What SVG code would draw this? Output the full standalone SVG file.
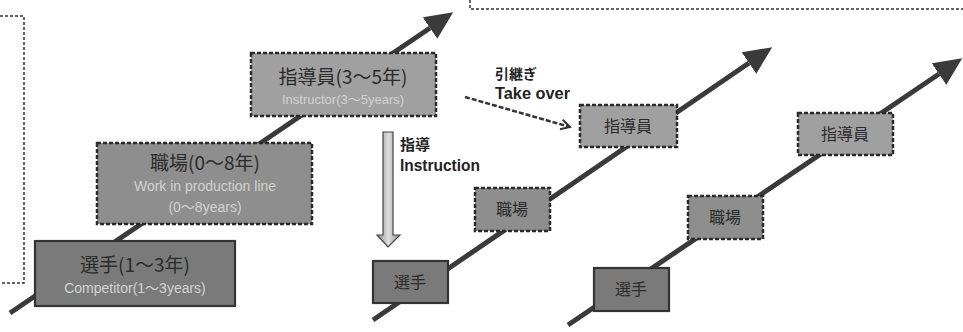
<svg xmlns="http://www.w3.org/2000/svg" width="963" height="332" viewBox="0 0 963 332">
<style>
.jp{font-family:"Noto Sans CJK JP","Liberation Sans",sans-serif;fill:#2b2b2b;text-anchor:middle}
.en{font-family:"Liberation Sans","Noto Sans CJK JP",sans-serif;fill:#d2d2d2;text-anchor:middle}
.lbl{font-family:"Liberation Sans","Noto Sans CJK JP",sans-serif;fill:#222;font-weight:bold}
.lbljp{font-family:"Noto Sans CJK JP",sans-serif;fill:#222;font-weight:bold}
.solid{stroke:#333;stroke-width:2.2}
.dash{stroke:#2a2a2a;stroke-width:2.5;stroke-dasharray:4 2}
.c1{fill:#7a7a7a}
.c2{fill:#8e8e8e}
.c3{fill:#a0a0a0}
.stair{stroke:#3a3a3a;stroke-width:5;fill:none}
.frame{stroke:#333;stroke-width:1.5;stroke-dasharray:3 2;fill:none}
</style>
<defs>
<marker id="big" markerUnits="userSpaceOnUse" markerWidth="30" markerHeight="28" refX="0" refY="13" orient="auto" viewBox="0 0 30 28">
<path d="M0,0 L28,13 L0,26 z" fill="#3a3a3a"/>
</marker>
<marker id="open" markerUnits="userSpaceOnUse" markerWidth="14" markerHeight="14" refX="10" refY="6" orient="auto" viewBox="0 0 14 14">
<path d="M1,1 L10,6 L1,11" fill="none" stroke="#333" stroke-width="2"/>
</marker>
<linearGradient id="ag" x1="0" y1="0" x2="1" y2="0">
<stop offset="0" stop-color="#8a8a8a"/>
<stop offset="0.5" stop-color="#e0e0e0"/>
<stop offset="1" stop-color="#8a8a8a"/>
</linearGradient>
</defs>

<g id="frames">
<polyline class="frame" points="0,16 24,16 24,283 0,283"/>
<polyline class="frame" points="470,0 470,9 963,9"/>
</g>

<g id="connectors">
<line class="stair" x1="10" y1="313" x2="430" y2="28" marker-end="url(#big)"/>
<line class="stair" x1="373" y1="320" x2="749" y2="63" marker-end="url(#big)"/>
<line class="stair" x1="568" y1="325" x2="939" y2="74" marker-end="url(#big)"/>
<line x1="465" y1="97" x2="570" y2="127" stroke="#333" stroke-width="2.5" stroke-dasharray="5 2" marker-end="url(#open)"/>
<polygon points="383,132 393,132 393,235 400,235 388,247 377,235 383,235" fill="url(#ag)" stroke="#444" stroke-width="1.2"/>
<text class="lbljp" x="400" y="150" font-size="15">指導</text>
<text class="lbl" x="400" y="171" font-size="16" textLength="80" lengthAdjust="spacingAndGlyphs">Instruction</text>
<text class="lbljp" x="495" y="79" font-size="14">引継ぎ</text>
<text class="lbl" x="495" y="99" font-size="16" textLength="75" lengthAdjust="spacingAndGlyphs">Take over</text>
</g>

<g id="node-senshu-1">
<rect class="c1 solid" x="35" y="241" width="200" height="65"/>
<text class="jp" x="135" y="272" font-size="19">選手(1～3年)</text>
<text class="en" x="135" y="293" font-size="14">Competitor(1～3years)</text>
</g>
<g id="node-shokuba-1">
<rect class="c2 dash" x="97" y="143" width="215" height="81"/>
<text class="jp" x="205" y="170" font-size="19">職場(0～8年)</text>
<text class="en" x="205" y="191" font-size="14">Work in production line</text>
<text class="en" x="205" y="212" font-size="14">(0～8years)</text>
</g>
<g id="node-shidouin-1">
<rect class="c3 dash" x="251" y="53" width="185" height="63"/>
<text class="jp" x="343" y="84" font-size="19">指導員(3～5年)</text>
<text class="en" x="343" y="104" font-size="13">Instructor(3～5years)</text>
</g>

<g id="node-senshu-2">
<rect class="c1 solid" x="373" y="261" width="75" height="42"/>
<text class="jp" x="410" y="288" font-size="16">選手</text>
</g>
<g id="node-shokuba-2">
<rect class="c2 dash" x="475" y="188" width="75" height="43"/>
<text class="jp" x="512" y="215" font-size="16">職場</text>
</g>
<g id="node-shidouin-2">
<rect class="c3 dash" x="580" y="105" width="97" height="42"/>
<text class="jp" x="628" y="132" font-size="16">指導員</text>
</g>

<g id="node-senshu-3">
<rect class="c1 solid" x="594" y="268" width="75" height="43"/>
<text class="jp" x="631" y="295" font-size="16">選手</text>
</g>
<g id="node-shokuba-3">
<rect class="c2 dash" x="688" y="196" width="75" height="43"/>
<text class="jp" x="725" y="223" font-size="16">職場</text>
</g>
<g id="node-shidouin-3">
<rect class="c3 dash" x="798" y="113" width="95" height="42"/>
<text class="jp" x="845" y="140" font-size="16">指導員</text>
</g>
</svg>
